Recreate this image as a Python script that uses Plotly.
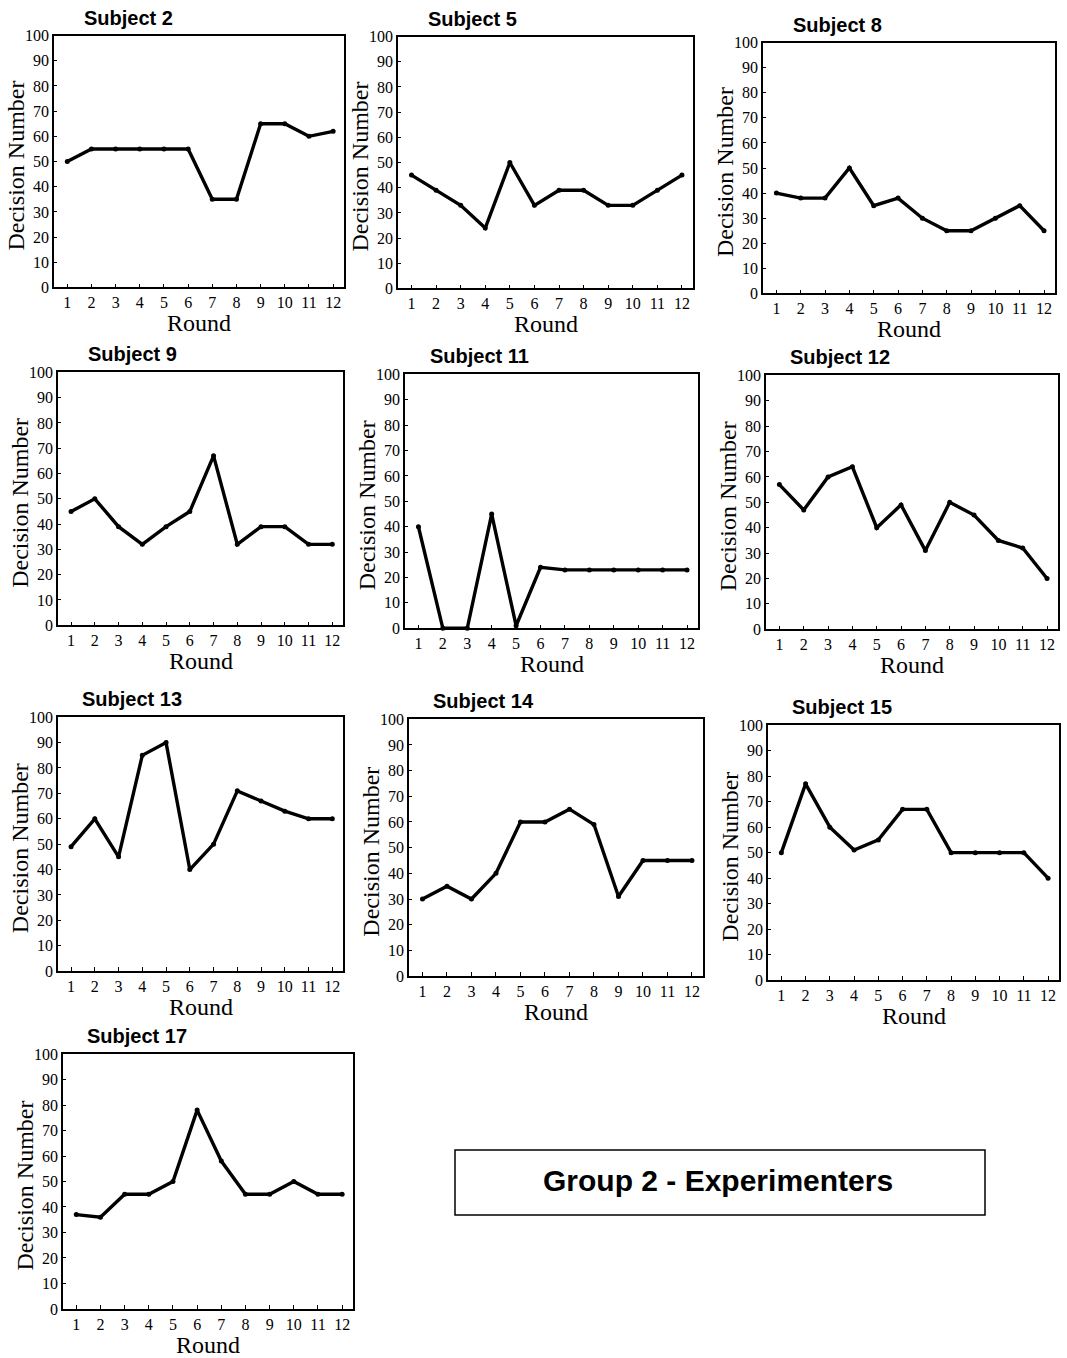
import plotly.graph_objects as go

W, H = 1067, 1358

rounds = list(range(1, 13))
subjects = ["Subject 2", "Subject 5", "Subject 8", "Subject 9", "Subject 11",
            "Subject 12", "Subject 13", "Subject 14", "Subject 15", "Subject 17"]
s2 = [50, 55, 55, 55, 55, 55, 35, 35, 65, 65, 60, 62]
s5 = [45, 39, 33, 24, 50, 33, 39, 39, 33, 33, 39, 45]
s8 = [40, 38, 38, 50, 35, 38, 30, 25, 25, 30, 35, 25]
s9 = [45, 50, 39, 32, 39, 45, 67, 32, 39, 39, 32, 32]
s11 = [40, 0, 0, 45, 1, 24, 23, 23, 23, 23, 23, 23]
s12 = [57, 47, 60, 64, 40, 49, 31, 50, 45, 35, 32, 20]
s13 = [49, 60, 45, 85, 90, 40, 50, 71, 67, 63, 60, 60]
s14 = [30, 35, 30, 40, 60, 60, 65, 59, 31, 45, 45, 45]
s15 = [50, 77, 60, 51, 55, 67, 67, 50, 50, 50, 50, 40]
s17 = [37, 36, 45, 45, 50, 78, 58, 45, 45, 50, 45, 45]
series = [s2, s5, s8, s9, s11, s12, s13, s14, s15, s17]
y_ticks = list(range(0, 101, 10))
group_label = "Group 2 - Experimenters"

# panel boxes in pixels: left, top, right, bottom
boxes = [
    (54, 35, 344, 287),
    (398, 36, 693, 288),
    (763, 42, 1055, 293),
    (58, 372, 343, 625),
    (405, 374, 698, 628),
    (766, 375, 1058, 629),
    (58, 717, 343, 971),
    (409, 719, 703, 976),
    (768, 725, 1059, 980),
    (63, 1054, 353, 1309),
]

def px(x):
    return x / W

def py(y):
    # compensate for the slight vertical scaling seen in the rendered page
    return 1 - ((y - 7.4) / 0.988) / H

serif = "Liberation Serif, Times New Roman, serif"
sans = "Liberation Sans, Arial, sans-serif"

fig = go.Figure()
annotations = []
layout = {}
for i, (name, vals, (l, t, r, b)) in enumerate(zip(subjects, series, boxes)):
    n = "" if i == 0 else str(i + 1)
    fig.add_trace(go.Scatter(
        x=rounds, y=vals, mode="lines+markers",
        line=dict(color="black", width=3.4),
        marker=dict(color="black", size=5),
        xaxis="x" + n, yaxis="y" + n, showlegend=False, cliponaxis=False,
    ))
    layout["xaxis" + n] = dict(
        domain=[px(l), px(r)], anchor="y" + n, range=[0.45, 12.45],
        tickmode="array", tickvals=rounds, ticktext=[str(v) for v in rounds],
        ticks="inside", ticklen=4, tickcolor="black", tickwidth=1,
        showline=True, mirror=True, linecolor="black", linewidth=1.5,
        showgrid=False, zeroline=False,
        tickfont=dict(family=serif, size=16, color="black"),
    )
    layout["yaxis" + n] = dict(
        domain=[py(b), py(t)], anchor="x" + n, range=[0, 100],
        tickmode="array", tickvals=y_ticks, ticktext=[str(v) for v in y_ticks],
        ticks="inside", ticklen=3, tickcolor="black", tickwidth=1,
        showline=True, mirror=True, linecolor="black", linewidth=1.5,
        showgrid=False, zeroline=False,
        tickfont=dict(family=serif, size=16, color="black"),
    )
    annotations.append(dict(
        text="<b>" + name + "</b>", x=px(l + 74), y=py(t - 18),
        xref="paper", yref="paper", xanchor="center", yanchor="middle",
        showarrow=False, font=dict(family=sans, size=20, color="black"),
    ))
    annotations.append(dict(
        text="Decision Number", x=px(l - 38), y=py((t + b) / 2 + 4),
        xref="paper", yref="paper", xanchor="center", yanchor="middle",
        textangle=-90, showarrow=False,
        font=dict(family=serif, size=24, color="black"),
    ))
    annotations.append(dict(
        text="Round", x=px((l + r) / 2), y=py(b + 36),
        xref="paper", yref="paper", xanchor="center", yanchor="middle",
        showarrow=False, font=dict(family=serif, size=24, color="black"),
    ))

annotations.append(dict(
    text="<b>" + group_label + "</b>", x=px(718), y=py(1181),
    xref="paper", yref="paper", xanchor="center", yanchor="middle",
    showarrow=False, font=dict(family=sans, size=30, color="black"),
))

fig.update_layout(
    width=W, height=H, margin=dict(l=0, r=0, t=0, b=0),
    paper_bgcolor="white", plot_bgcolor="white",
    annotations=annotations,
    shapes=[dict(type="rect", xref="paper", yref="paper",
                 x0=px(455), x1=px(985), y0=py(1215), y1=py(1150),
                 line=dict(color="black", width=1.5))],
    **layout,
)

fig.write_html("out.html")
